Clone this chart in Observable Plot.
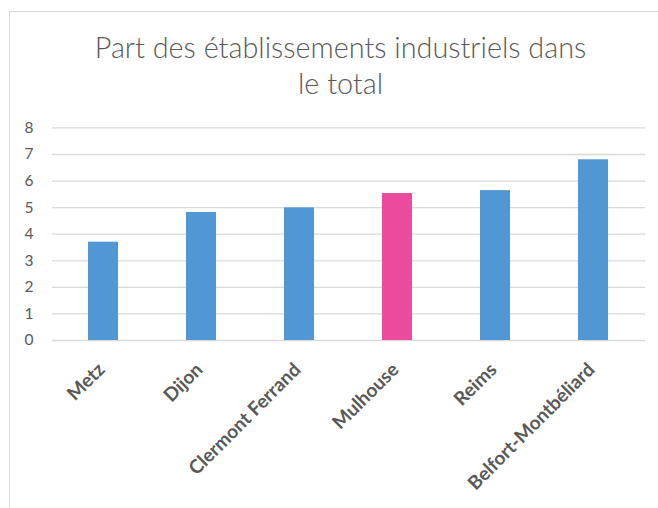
<!DOCTYPE html>
<html>
<head>
<meta charset="utf-8">
<script src="https://cdn.jsdelivr.net/npm/d3@7"></script>
<script src="https://cdn.jsdelivr.net/npm/@observablehq/plot@0.6"></script>
<style>
  html, body { margin: 0; padding: 0; background: #fff; }
  #wrap { position: relative; width: 658px; height: 508px; overflow: hidden; font-family: Lato, "Open Sans", sans-serif; }
  #frame { position: absolute; left: 9px; top: 11px; width: 700px; height: 600px; border: 1px solid #d9d9d9; box-sizing: border-box; }
  #title { position: absolute; left: 0; top: 29px; width: 681px; text-align: center; font-size: 28.8px; font-weight: 300; line-height: 36px; color: #595959; }
  #chart { position: absolute; left: 0; top: 110px; }
</style>
</head>
<body>
<div id="wrap">
  <div id="frame"></div>
  <div id="title">Part des établissements industriels dans<br>le total</div>
  <div id="chart"></div>
</div>
<script>
const cities = ["Metz", "Dijon", "Clermont Ferrand", "Mulhouse", "Reims", "Belfort-Montbéliard"];
const values = [3.70, 4.82, 4.99, 5.53, 5.64, 6.80];
const yTicks = [0, 1, 2, 3, 4, 5, 6, 7, 8];
const highlighted = "Mulhouse";

const blue = "#5097d3";
const pink = "#ec4a9c";

const data = cities.map((city, i) => ({city, value: values[i]}));

const chart = Plot.plot({
  width: 658,
  height: 398,
  marginTop: 17.4,
  marginBottom: 168,
  marginLeft: 52,
  marginRight: 13,
  style: {fontFamily: "Lato, 'Open Sans', sans-serif", color: "#595959", background: "transparent"},
  x: {domain: cities, paddingInner: 0.69, paddingOuter: 0.345, label: null},
  y: {domain: [0, 8], label: null},
  marks: [
    Plot.gridY(yTicks, {stroke: "#d9d9d9", strokeOpacity: 1, strokeWidth: 1.3}),
    Plot.barY(data, {x: "city", y: "value", fill: d => d.city === highlighted ? pink : blue}),
    Plot.axisY(yTicks, {tickSize: 0, tickPadding: 19, fontSize: 15.5, label: null}),
    Plot.axisX({tickRotate: -45, tickSize: 0, tickPadding: 26, dx: -2, fontSize: 19, fontWeight: "bold", label: null})
  ]
});
document.getElementById("chart").appendChild(chart);
</script>
</body>
</html>
